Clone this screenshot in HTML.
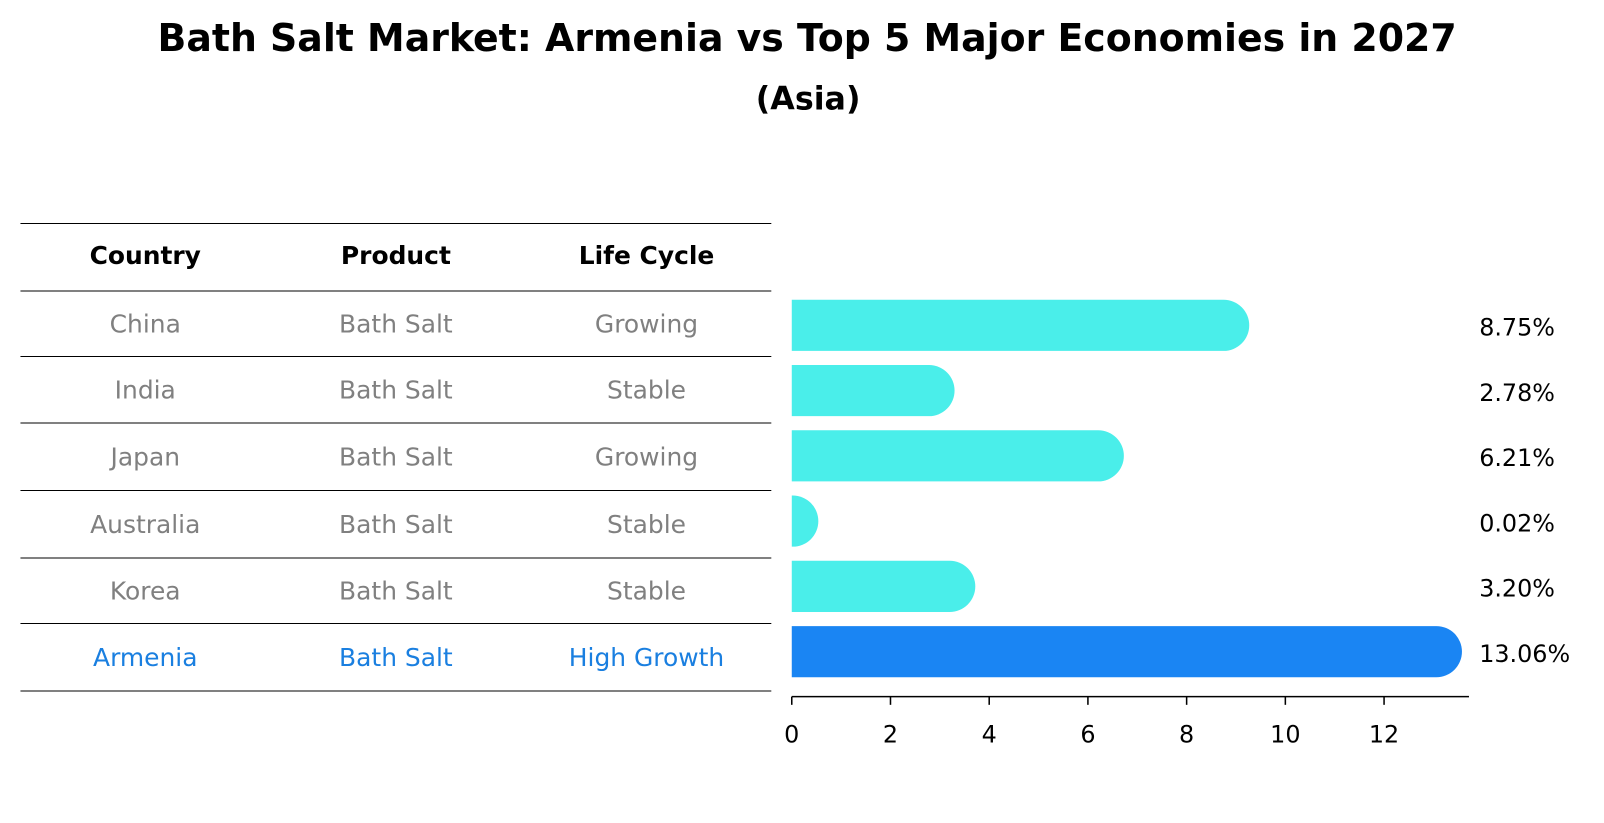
<!DOCTYPE html>
<html><head><meta charset="utf-8"><style>
body{margin:0;background:#fff;}
#wrap{position:relative;width:1604px;height:823px;overflow:hidden;}
</style></head><body>
<div id="wrap">
<svg id="svg" width="1604" height="823" viewBox="0 0 1568 804.5" style="position:absolute;left:0;top:0" font-family="DejaVu Sans, Liberation Sans, sans-serif">
<text x="789" y="50" text-anchor="middle" font-size="37" font-weight="bold">Bath Salt Market: Armenia vs Top 5 Major Economies in 2027</text>
<text x="790" y="107" text-anchor="middle" font-size="31" font-weight="bold">(Asia)</text>
</svg>
</div>
<script>
const countries=["China","India","Japan","Australia","Korea","Armenia"];
const products=["Bath Salt","Bath Salt","Bath Salt","Bath Salt","Bath Salt","Bath Salt"];
const lifeCycles=["Growing","Stable","Growing","Stable","Stable","High Growth"];
const values=[8.75,2.78,6.21,0.02,3.20,13.06];
const ticks=[0,2,4,6,8,10,12];
const NS="http://www.w3.org/2000/svg";
const svg=document.getElementById('svg');
function mk(tag,attrs,txt){const e=document.createElementNS(NS,tag);for(const k in attrs)e.setAttribute(k,attrs[k]);if(txt!==undefined)e.textContent=txt;svg.appendChild(e);return e;}
const x0=774,ppu=(1353-774)/12;
function xs(v){return x0+v*ppu;}
function yc(i){return 318+i*63.8;}
const FS=26.5;
const lineYs=[218,284,348,413,479,545,609,675];
lineYs.forEach((y,i)=>{const l=mk('line',{x1:20,x2:754,y1:y+0.5,y2:y+0.5,stroke:'#000','stroke-width':1});

});
const colX=[142,387,632];
["Country","Product","Life Cycle"].forEach((h,j)=>{const t=mk('text',{x:colX[j],y:258,'text-anchor':'middle','font-size':FS*0.92,'font-weight':'bold'},h);

});
countries.forEach((c,i)=>{
 const col=i===countries.length-1?'#1a7fe0':'#808080';
 const y=(lineYs[i+1]+lineYs[i+2])/2+9;
 [c,products[i],lifeCycles[i]].forEach((v,j)=>{const t=mk('text',{x:colX[j],y:y,'text-anchor':'middle','font-size':FS*0.92,fill:col},v);
 
 });
 const xe=xs(values[i]),h=50,top=yc(i)-h/2;
 const w=xe-x0;
 const r=Math.min(25,w*30);
 const fill=i===countries.length-1?'#1a85f3':'#4aeeea';
 const d=`M${x0},${top} H${xe} A${r},25 0 0 1 ${xe},${top+h} H${x0} Z`;
 const b=mk('path',{d:d,fill:fill});
 
 
 const lb=mk('text',{x:1446,y:yc(i)+10,'font-size':FS*0.88},values[i].toFixed(2)+'%');
 
 
});
const ax=mk('line',{x1:x0,x2:1436,y1:681,y2:681,stroke:'#000','stroke-width':1.5});


ticks.forEach(t=>{const tl=mk('line',{x1:xs(t),x2:xs(t),y1:681,y2:689,stroke:'#000','stroke-width':1.5});


const tx=mk('text',{x:xs(t),y:726,'text-anchor':'middle','font-size':FS*0.88},t);

});
</script>
</body></html>
